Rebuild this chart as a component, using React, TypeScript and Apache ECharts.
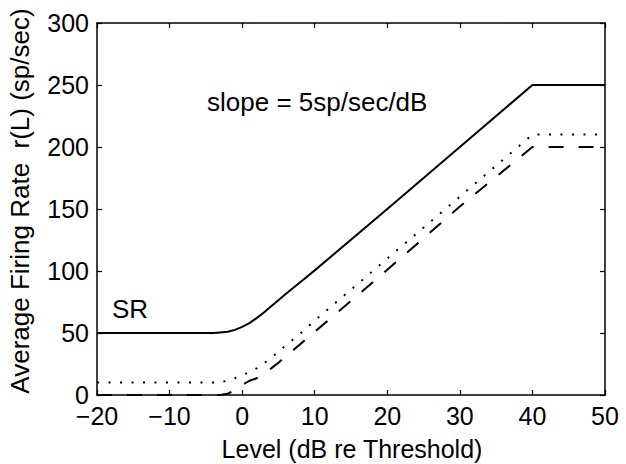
import React, { useEffect, useRef } from "react";
import * as echarts from "echarts";

const levels = [-20, -4, -3, -2, -1, 0, 1, 2, 3, 4, 5, 6, 8, 10, 20, 30, 40, 50];
const solidRate = [50, 50, 50.5, 51, 52.5, 55, 58, 62, 66.5, 71.5, 76.5, 81.5, 91, 100.5, 150, 200, 250, 250];
const dottedRate = [10, 10, 10.5, 11.5, 13.5, 16, 18.5, 21.5, 25.5, 30, 35, 40, 49.5, 60, 110, 160, 210, 210];
const dashedRate = [0, 0, 0, 1, 4, 8, 11.5, 13.5, 17.5, 21.5, 26, 31, 41, 51, 101, 152, 200, 200];

const xTicks = [-20, -10, 0, 10, 20, 30, 40, 50];
const yTicks = [0, 50, 100, 150, 200, 250, 300];

const FONT = "Liberation Sans, Arial, Helvetica, sans-serif";

const pairs = (ys: number[]) => levels.map((x, i) => [x, ys[i]]);

export default function App() {
  const ref = useRef<HTMLDivElement>(null);
  useEffect(() => {
    document.body.style.margin = "0";
    const chart = echarts.init(ref.current!, null, { renderer: "svg" });
    const axisLine = { show: true, onZero: false, lineStyle: { color: "#000", width: 1.5 } };
    const axisTick = { show: true, inside: true, length: 5, lineStyle: { color: "#000", width: 1.2 } };
    const fmt = (v: number) => String(v).replace("-", "\u2212");
    chart.setOption({
      animation: false,
      backgroundColor: "#fff",
      grid: { left: 97, right: 21, top: 23, bottom: 69, containLabel: false },
      xAxis: [
        {
          type: "value",
          min: xTicks[0],
          max: xTicks[xTicks.length - 1],
          interval: 10,
          position: "bottom",
          axisLine,
          axisTick,
          splitLine: { show: false },
          axisLabel: { color: "#000", fontSize: 25, lineHeight: 18, fontFamily: FONT, margin: 12, formatter: fmt },
        },
        {
          type: "value",
          min: xTicks[0],
          max: xTicks[xTicks.length - 1],
          interval: 10,
          position: "top",
          axisLine,
          axisTick,
          splitLine: { show: false },
          axisLabel: { show: false },
        },
      ],
      yAxis: [
        {
          type: "value",
          min: yTicks[0],
          max: yTicks[yTicks.length - 1],
          interval: 50,
          position: "left",
          axisLine,
          axisTick,
          splitLine: { show: false },
          axisLabel: { color: "#000", fontSize: 25, lineHeight: 18, fontFamily: FONT, margin: 8 },
        },
        {
          type: "value",
          min: yTicks[0],
          max: yTicks[yTicks.length - 1],
          interval: 50,
          position: "right",
          axisLine,
          axisTick,
          splitLine: { show: false },
          axisLabel: { show: false },
        },
      ],
      series: [
        {
          type: "line",
          data: pairs(solidRate),
          showSymbol: false,
          symbol: "none",
          clip: false,
          lineStyle: { color: "#000", width: 2 },
        },
        {
          type: "line",
          data: pairs(dottedRate),
          showSymbol: false,
          symbol: "none",
          clip: false,
          lineStyle: { color: "#000", width: 2, type: [2, 9.5] },
        },
        {
          type: "line",
          data: pairs(dashedRate),
          showSymbol: false,
          symbol: "none",
          clip: false,
          lineStyle: { color: "#000", width: 2, type: [15, 15] },
        },
      ],
      graphic: [
        {
          type: "text",
          x: 207,
          y: 102,
          style: { text: "slope = 5sp/sec/dB", fill: "#000", font: `26px ${FONT}`, textAlign: "left", textVerticalAlign: "middle" },
        },
        {
          type: "text",
          x: 112,
          y: 309,
          style: { text: "SR", fill: "#000", font: `26px ${FONT}`, textAlign: "left", textVerticalAlign: "middle" },
        },
        {
          type: "text",
          x: 352,
          y: 449,
          style: { text: "Level (dB re Threshold)", fill: "#000", font: `25px ${FONT}`, textAlign: "center", textVerticalAlign: "middle" },
        },
        {
          type: "text",
          x: 20,
          y: 201,
          rotation: Math.PI / 2,
          style: { text: "Average Firing Rate  r(L) (sp/sec)", fill: "#000", font: `26px ${FONT}`, textAlign: "center", textVerticalAlign: "middle" },
        },
      ],
    });
    return () => chart.dispose();
  }, []);
  return <div ref={ref} style={{ position: "fixed", left: 0, top: 0, width: 626, height: 464 }} />;
}
